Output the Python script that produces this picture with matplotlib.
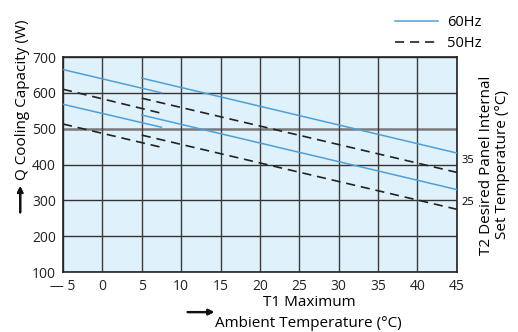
import matplotlib.pyplot as plt
from matplotlib.lines import Line2D

plt.rcParams['font.family'] = ['Open Sans', 'DejaVu Sans']

# ambient temperature T1 (deg C) at segment start / end
t1_short = [-5, 7.5]
t1_long = [5, 45]

# cooling capacity (W), 60Hz
q60_35_short = [665, 600]
q60_35_long = [641, 432]
q60_25_short = [568, 504]
q60_25_long = [538, 330]

# cooling capacity (W), 50Hz
q50_35_short = [610, 543]
q50_35_long = [585, 378]
q50_25_short = [513, 448]
q50_25_long = [482, 275]

xticks = [-5, 0, 5, 10, 15, 20, 25, 30, 35, 40, 45]
xtick_labels = ['— 5', '0', '5', '10', '15', '20', '25', '30', '35', '40', '45']
yticks = [100, 200, 300, 400, 500, 600, 700]

blue = '#4f9fd8'
black = '#222222'

fig = plt.figure(figsize=(5.18, 3.32), dpi=100)
ax = fig.add_axes([0.1216, 0.1807, 0.7604, 0.6476])
ax.set_facecolor('#dff1fa')

for y in yticks:
    if y == 500:
        ax.axhline(y, color='#7a7a7a', lw=1.8, zorder=1)
    else:
        ax.axhline(y, color='#333333', lw=1.0, zorder=1)
for x in xticks:
    ax.axvline(x, color='#3c3c3c', lw=1.0, zorder=1)

for t, q in [(t1_short, q60_35_short), (t1_long, q60_35_long),
             (t1_short, q60_25_short), (t1_long, q60_25_long)]:
    ax.plot(t, q, color=blue, lw=1.1, zorder=3)
for t, q in [(t1_short, q50_35_short), (t1_long, q50_35_long),
             (t1_short, q50_25_short), (t1_long, q50_25_long)]:
    ax.plot(t, q, color=black, lw=1.2, dashes=(5.5, 3.5), zorder=3)

ax.set_xlim(-5, 45)
ax.set_ylim(100, 700)
ax.set_xticks(xticks)
ax.set_xticklabels(xtick_labels)
ax.set_yticks(yticks)
ax.tick_params(length=0, labelsize=10, colors='#222222', pad=5)
for s in ax.spines.values():
    s.set_color('#222222')
    s.set_linewidth(1.2)

ax.text(45.6, 411, '35', fontsize=8, va='center', ha='left', clip_on=False)
ax.text(45.6, 294, '25', fontsize=8, va='center', ha='left', clip_on=False)

fig.text(0.043, 0.70, 'Q Cooling Capacity (W)', rotation=90, fontsize=11,
         ha='center', va='center')
fig.add_artist(plt.annotate('', xy=(0.039, 0.448), xytext=(0.039, 0.352),
                            xycoords='figure fraction',
                            arrowprops=dict(arrowstyle='-|>', color='#111111',
                                            lw=1.6, mutation_scale=8)))

fig.text(0.955, 0.503, 'T2 Desired Panel Internal\nSet Temperature (°C)',
         rotation=90, fontsize=11, ha='center', va='center', linespacing=1.1)

fig.text(0.598, 0.09, 'T1 Maximum', fontsize=11, ha='center', va='center')
fig.text(0.595, 0.027, 'Ambient Temperature (°C)', fontsize=11,
         ha='center', va='center')
fig.add_artist(plt.annotate('', xy=(0.419, 0.06), xytext=(0.357, 0.06),
                            xycoords='figure fraction',
                            arrowprops=dict(arrowstyle='-|>', color='#111111',
                                            lw=1.6, mutation_scale=8)))

handles = [Line2D([], [], color=blue, lw=1.1),
           Line2D([], [], color=black, lw=1.2, dashes=(5.5, 3.5))]
fig.legend(handles, ['60Hz', '50Hz'], loc='upper right',
           bbox_to_anchor=(0.955, 0.995), frameon=False, fontsize=10.5,
           handlelength=3.0, handletextpad=0.6, labelspacing=0.45)

plt.savefig('out.png', dpi=100)
